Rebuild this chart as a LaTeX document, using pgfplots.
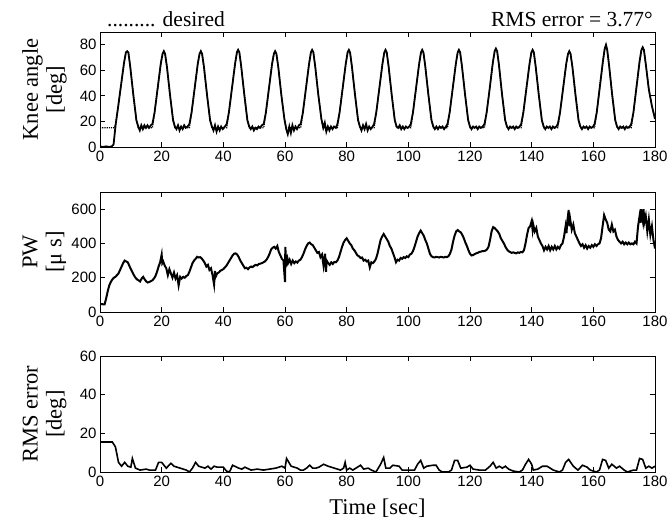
\documentclass[border=0pt]{standalone}
\usepackage{pgfplots}
\pgfplotsset{compat=1.18}
\usepackage{fontspec}
\setmainfont{Liberation Serif}
\newfontfamily\arial{Liberation Sans}

\pgfplotsset{
  panel/.style={
    scale only axis, width=555pt,
    xmin=0, xmax=180, xtick={0,20,...,180},
    tick align=inside, major tick length=5pt,
    axis line style={line width=0.8pt},
    every tick/.style={line width=0.8pt, black},
    tick label style={font=\arial\fontsize{15}{16}\selectfont},
    /pgf/number format/assume math mode=true,
    label style={font=\fontsize{22.5}{24}\selectfont},
    ylabel style={at={(axis description cs:-0.1,0.5)}, anchor=center, align=center},
    clip mode=individual,
  },
}

\begin{document}
\begin{tikzpicture}
\useasboundingbox (0,0) rectangle (671pt,-522pt);

% knee angle
\begin{axis}[panel, at={(100pt,-32pt)}, anchor=north west, height=115pt,
    ymin=0, ymax=90, ytick={0,20,...,80}, ylabel={Knee angle\\{[deg]}}]
\addplot[black, densely dotted, line width=1.2pt] coordinates {
(0,15) (4.6,15) (5.1,18) (5.8,30) (6.8,48) (7.8,66) (8.4,74) (8.8,75) (9.2,74) (9.8,63) (10.8,41) (11.8,21) (12.4,15)
(17.0,15) (17.7,27) (18.7,46) (19.7,65) (20.3,73) (20.7,75) (21.1,73) (21.7,63) (22.7,41) (23.7,21) (24.3,15)
(29.0,15) (29.7,27) (30.7,46) (31.7,65) (32.3,73) (32.7,75) (33.1,73) (33.7,63) (34.7,41) (35.7,21) (36.3,15)
(41.1,15) (41.8,27) (42.8,46) (43.8,65) (44.4,74) (44.8,76) (45.2,74) (45.8,63) (46.8,41) (47.8,21) (48.4,15)
(53.1,15) (53.8,27) (54.8,46) (55.8,65) (56.4,73) (56.8,75) (57.2,73) (57.8,63) (58.8,41) (59.8,22) (60.4,15)
(65.1,15) (65.8,27) (66.8,46) (67.8,65) (68.4,74) (68.8,76) (69.2,74) (69.8,63) (70.8,41) (71.8,22) (72.4,15)
(77.0,15) (77.7,27) (78.7,46) (79.7,65) (80.3,74) (80.7,76) (81.1,74) (81.7,63) (82.7,41) (83.7,21) (84.3,15)
(88.9,15) (89.6,27) (90.6,46) (91.6,65) (92.2,74) (92.6,76) (93.0,74) (93.6,63) (94.6,41) (95.6,21) (96.2,15)
(100.8,15) (101.5,27) (102.5,46) (103.5,65) (104.1,74) (104.5,76) (104.9,74) (105.5,63) (106.5,41) (107.5,21) (108.1,15)
(112.7,15) (113.4,27) (114.4,46) (115.4,65) (116.0,74) (116.4,76) (116.8,74) (117.4,63) (118.4,41) (119.4,21) (120.0,15)
(124.7,15) (125.4,27) (126.4,46) (127.4,66) (128.0,75) (128.4,77) (128.8,75) (129.4,64) (130.4,41) (131.4,21) (132.0,15)
(136.6,15) (137.3,27) (138.3,46) (139.3,65) (139.9,74) (140.3,76) (140.7,74) (141.3,63) (142.3,41) (143.3,21) (143.9,15)
(148.5,15) (149.2,27) (150.2,46) (151.2,65) (151.8,73) (152.2,75) (152.6,73) (153.2,63) (154.2,41) (155.2,21) (155.8,15)
(160.4,15) (161.1,27) (162.1,47) (163.1,67) (163.7,77) (164.1,79) (164.5,76) (165.1,64) (166.1,41) (167.1,21) (167.7,15)
(172.3,15) (173.0,27) (174.0,47) (175.0,67) (175.6,76) (176.0,78) (176.4,76) (177.0,65) (178.0,45) (179.0,32) (180,22)
};
\addplot[black, line width=1.8pt] coordinates {
(0,0.5) (1,0) (2,0.5) (3,0) (3.8,0.5) (4.4,2) (5.1,18) (5.8,30) (6.8,48) (7.8,66) (8.4,74) (8.8,75) (9.2,74) (9.8,63) (10.8,41) (11.8,21) (12.4,16)
(12.9,13) (13.4,17) (13.9,14) (14.4,17) (14.9,15) (15.4,17) (15.9,15) (16.5,17)
(17.0,18) (17.7,27) (18.7,46) (19.7,65) (20.3,73) (20.7,75) (21.1,73) (21.7,63) (22.7,41) (23.7,21) (24.3,16)
(24.8,14) (25.3,17) (25.8,13) (26.3,16) (26.8,14) (27.3,17) (27.8,15) (28.4,16)
(29.0,18) (29.7,27) (30.7,46) (31.7,65) (32.3,73) (32.7,75) (33.1,73) (33.7,63) (34.7,41) (35.7,21) (36.3,16)
(36.8,13) (37.3,17) (37.8,12) (38.3,16) (38.8,13) (39.3,16) (39.8,14) (40.5,16)
(41.1,18) (41.8,27) (42.8,46) (43.8,65) (44.4,74) (44.8,76) (45.2,74) (45.8,63) (46.8,41) (47.8,21) (48.4,16)
(48.9,14) (49.4,16) (49.9,13) (50.4,15) (50.9,14) (51.4,16) (51.9,15) (52.5,17)
(53.1,18) (53.8,27) (54.8,46) (55.8,65) (56.4,73) (56.8,75) (57.2,73) (57.8,63) (58.8,41) (59.8,22) (60.4,14)
(60.9,10) (61.4,16) (61.9,11) (62.4,17) (62.9,13) (63.4,16) (63.9,14) (64.5,17)
(65.1,18) (65.8,27) (66.8,46) (67.8,65) (68.4,74) (68.8,76) (69.2,74) (69.8,63) (70.8,41) (71.8,22) (72.4,15)
(72.9,19) (73.4,12) (73.9,16) (74.4,13) (74.9,16) (75.4,14) (75.9,16) (76.5,15)
(77.0,18) (77.7,27) (78.7,46) (79.7,65) (80.3,74) (80.7,76) (81.1,74) (81.7,63) (82.7,41) (83.7,21) (84.3,16)
(84.8,13) (85.3,17) (85.8,14) (86.3,18) (86.8,13) (87.3,16) (87.8,14) (88.4,16)
(88.9,18) (89.6,27) (90.6,46) (91.6,65) (92.2,74) (92.6,76) (93.0,74) (93.6,63) (94.6,41) (95.6,21) (96.2,16)
(96.7,15) (97.2,17) (97.7,14) (98.2,16) (98.7,14) (99.2,16) (99.7,15) (100.3,16)
(100.8,18) (101.5,27) (102.5,46) (103.5,65) (104.1,74) (104.5,76) (104.9,74) (105.5,63) (106.5,41) (107.5,21) (108.1,16)
(108.6,14) (109.1,16) (109.6,14) (110.1,16) (110.6,15) (111.1,16) (111.6,14) (112.2,16)
(112.7,18) (113.4,27) (114.4,46) (115.4,65) (116.0,74) (116.4,76) (116.8,74) (117.4,63) (118.4,41) (119.4,21) (120.0,16)
(120.5,14) (121.0,16) (121.5,15) (122.0,16) (122.5,14) (123.0,16) (123.5,15) (124.1,16)
(124.7,18) (125.4,27) (126.4,46) (127.4,66) (128.0,75) (128.4,77) (128.8,75) (129.4,64) (130.4,41) (131.4,21) (132.0,16)
(132.5,14) (133.0,16) (133.5,15) (134.0,16) (134.5,14) (135.0,16) (135.5,15) (136.1,16)
(136.6,18) (137.3,27) (138.3,46) (139.3,65) (139.9,74) (140.3,76) (140.7,74) (141.3,63) (142.3,41) (143.3,21) (143.9,16)
(144.4,14) (144.9,16) (145.4,15) (145.9,16) (146.4,14) (146.9,16) (147.4,15) (148.0,16)
(148.5,18) (149.2,27) (150.2,46) (151.2,65) (151.8,73) (152.2,75) (152.6,73) (153.2,63) (154.2,41) (155.2,21) (155.8,16)
(156.3,14) (156.8,16) (157.3,15) (157.8,16) (158.3,14) (158.8,16) (159.3,15) (159.9,16)
(160.4,18) (161.1,27) (162.1,47) (163.1,67) (163.7,77) (164.1,80) (164.5,76) (165.1,64) (166.1,41) (167.1,21) (167.7,16)
(168.2,14) (168.7,16) (169.2,15) (169.7,16) (170.2,14) (170.7,16) (171.2,15) (171.8,16)
(172.3,18) (173.0,27) (174.0,47) (175.0,67) (175.6,76) (176.0,78) (176.4,76) (177.0,65) (178.0,45) (179.0,32) (180,22)
};
\end{axis}

% pulse width
\begin{axis}[panel, at={(100pt,-192pt)}, anchor=north west, height=120pt,
    ymin=0, ymax=700, ytick={0,200,400,600}, ylabel={PW\\{[μ s]}}]
\addplot[black, line width=2pt] coordinates {
(0,45) (0.5,46) (1,45) (1.5,45) (2,80) (2.5,120) (3,155) (3.5,175) (4,190) (4.5,200) (5,205) (5.5,215) (6,225) (6.5,245) (7,265) (7.5,285) (8,300) (8.5,295) (9,290) (9.5,270)
(10,250) (10.5,232) (11,215) (11.5,200) (12,190) (12.5,185) (13,178) (13.5,195) (14,205) (14.5,190) (15,178) (15.5,172) (16,175) (16.5,180) (17,185) (17.5,195) (18,210) (18.5,235) (19,265) (19.5,290)
(20,335) (20.2,285) (20.5,295) (21,270) (21.5,255) (22,215) (22.5,250) (23,225) (23.5,200) (24,230) (24.5,195) (25,215) (25.5,155) (26,205) (26.5,195) (27,205) (27.5,200) (28,210) (28.5,215) (29,235) (29.5,260)
(30,285) (30.5,300) (31,310) (31.5,322) (32,318) (32.5,320) (33,312) (33.5,300) (34,285) (34.5,265) (35,275) (35.5,245) (36,255) (36.5,215) (37,160) (37.3,240) (37.5,205) (38,225) (38.5,230) (39,240) (39.5,245)
(40,250) (40.5,260) (41,270) (41.5,285) (42,300) (42.5,315) (43,330) (43.5,340) (44,342) (44.5,335) (45,320) (45.5,300) (46,285) (46.5,270) (47,255) (47.5,258) (48,250) (48.5,260) (49,265) (49.5,262)
(50,270) (50.5,275) (51,272) (51.5,280) (52,282) (52.5,285) (53,290) (53.5,295) (54,305) (54.5,320) (55,340) (55.5,365) (56,375) (56.5,380) (57,370) (57.5,385) (58,350) (58.5,330) (59,310) (59.5,300)
(60,175) (60.1,380) (60.4,280) (60.8,310) (61,285) (61.5,305) (62,280) (62.5,300) (63,285) (63.5,295) (64,288) (64.5,300) (65,305) (65.5,320) (66,340) (66.5,365) (67,385) (67.5,400) (68,405) (68.5,395) (69,390) (69.5,375)
(70,360) (70.5,345) (71,350) (71.5,320) (72,335) (72.5,270) (73,340) (73.3,235) (73.5,300) (74,285) (74.5,275) (75,290) (75.5,280) (76,292) (76.5,290) (77,300) (77.5,320) (78,350) (78.5,380) (79,405) (79.5,420)
(80,430) (80.5,415) (81,400) (81.5,390) (82,370) (82.5,360) (83,345) (83.5,330) (84,325) (84.5,315) (85,318) (85.5,300) (86,305) (86.5,295) (87,300) (87.5,260) (88,290) (88.5,285) (89,295) (89.5,310)
(90,340) (90.5,380) (91,420) (91.5,440) (92,455) (92.5,440) (93,425) (93.5,410) (94,385) (94.5,370) (95,345) (95.5,320) (96,290) (96.5,305) (97,300) (97.5,315) (98,310) (98.5,320) (99,315) (99.5,325)
(100,320) (100.5,335) (101,340) (101.5,355) (102,380) (102.5,410) (103,440) (103.5,460) (104,475) (104.5,460) (105,445) (105.5,420) (106,400) (106.5,370) (107,340) (107.5,325) (108,320) (108.5,318) (109,322) (109.5,320)
(110,318) (110.5,322) (111,320) (111.5,318) (112,322) (112.5,320) (113,325) (113.5,340) (114,365) (114.5,410) (115,445) (115.5,470) (116,478) (116.5,470) (117,465) (117.5,450) (118,430) (118.5,405) (119,385) (119.5,360)
(120,340) (120.5,330) (121,332) (121.5,338) (122,342) (122.5,345) (123,350) (123.5,352) (124,355) (124.5,355) (125,358) (125.5,365) (126,380) (126.5,420) (127,470) (127.5,495) (128,490) (128.5,480) (129,470) (129.5,455)
(130,430) (130.5,415) (131,400) (131.5,380) (132,365) (132.5,355) (133,350) (133.5,345) (134,348) (134.5,345) (135,342) (135.5,348) (136,345) (136.5,350) (137,348) (137.5,360) (138,400) (138.5,450) (139,490) (139.5,500)
(140,530) (140.3,480) (140.5,510) (141,470) (141.5,490) (142,440) (142.5,420) (143,400) (143.5,385) (144,360) (144.5,380) (145,365) (145.5,385) (146,360) (146.5,380) (147,365) (147.5,385) (148,365) (148.5,380) (149,370) (149.5,390)
(150,400) (150.5,440) (151,500) (151.3,460) (151.5,520) (152,595) (152.2,500) (152.5,540) (153,480) (153.5,510) (154,460) (154.5,440) (155,420) (155.5,400) (156,385) (156.5,395) (157,375) (157.5,390) (158,370) (158.5,385) (159,375) (159.5,390)
(160,380) (160.5,395) (161,385) (161.5,395) (162,400) (162.5,430) (163,500) (163.5,565) (164,540) (164.5,520) (165,480) (165.5,470) (166,510) (166.5,470) (167,480) (167.5,440) (168,420) (168.5,410) (169,400) (169.5,410)
(170,395) (170.5,405) (171,395) (171.5,405) (172,395) (172.5,400) (173,395) (173.5,410) (174,400) (174.5,500) (175,560) (175.3,520) (175.5,600) (176,540) (176.3,600) (176.5,520) (177,560) (177.5,470) (178,540) (178.5,450) (179,500) (179.5,420) (180,370)
};
\end{axis}

% RMS error
\begin{axis}[panel, at={(100pt,-356pt)}, anchor=north west, height=116pt,
    ymin=0, ymax=60, ytick={0,20,40,60}, ylabel={RMS error\\{[deg]}},
    xlabel={Time [sec]},
    xlabel style={at={(axis description cs:0.5,0)}, anchor=center, yshift=-36pt}]
\addplot[black, line width=1.6pt] coordinates {
(0,15.5) (4,15.5) (5,13) (6,5) (7,3) (8,5) (9,3) (10,2.5) (10.5,7) (11.5,2) (13,1) (15,1.5) (16,1) (18,1) (19,5) (20,5) (21.5,2) (23,4.5) (24,3) (26,2) (28,1) (29,0)
(30,2) (31,5) (32,3) (34,2) (35,3) (36,1.5) (37,3) (38,2.5) (40,2.5) (41,0.5) (42,0) (43,3.5) (45,2) (46,1.5) (47,2.5) (49,1) (51,1.5) (53,1) (55,1.5) (57,2) (59,3) (60,2)
(60.5,7) (62,3) (64,2) (65,1) (66,1) (67,2) (68,3.5) (69,2) (70,2) (71,2.5) (72.5,4) (74,3) (76,2) (78,1) (79,2) (79.5,5) (80,1) (81,2) (82,1) (83,2) (84.5,3.5) (85.5,1.5) (87,2) (88,1) (89.5,0)
(91,4) (92,7.5) (92.7,2) (94,2) (95,3.5) (97,3) (98,1) (102,1) (103,4) (104,6) (105,2) (106,3) (108,3.5) (109,3.5) (110,1) (111,0) (113,0) (114,1) (115,6) (116,6) (117,2) (119,2.5) (120,3.5)
(121,1.5) (123,1) (125,1) (126.5,3) (127.5,5) (128.5,2) (129.5,3) (130.5,2) (131.5,3) (132.5,1.5) (134,0.5) (136,0) (137,1) (138,4) (139,6.5) (140,4) (140.5,1) (142,1.5) (143.5,3) (145,3) (147,1) (149,0)
(150,1) (151,5) (152,6.5) (153.5,3) (155,1) (156.5,3.5) (158,2.5) (159,1) (161,0) (162,1) (163,6.5) (164,6) (165,2) (166,4) (167.5,2) (168.5,3) (170,1) (171,0) (173,1) (174,1) (175,7) (176,6.5) (177,2) (178,3) (179,2) (180,3)
};
\end{axis}

\node[anchor=base west, font=\fontsize{21.5}{24}\selectfont, inner sep=0pt] at (107pt,-26pt) {......... desired};
\node[anchor=base east, font=\fontsize{21.5}{24}\selectfont, inner sep=0pt] at (653pt,-26pt) {RMS error = 3.77°};
\end{tikzpicture}
\end{document}
